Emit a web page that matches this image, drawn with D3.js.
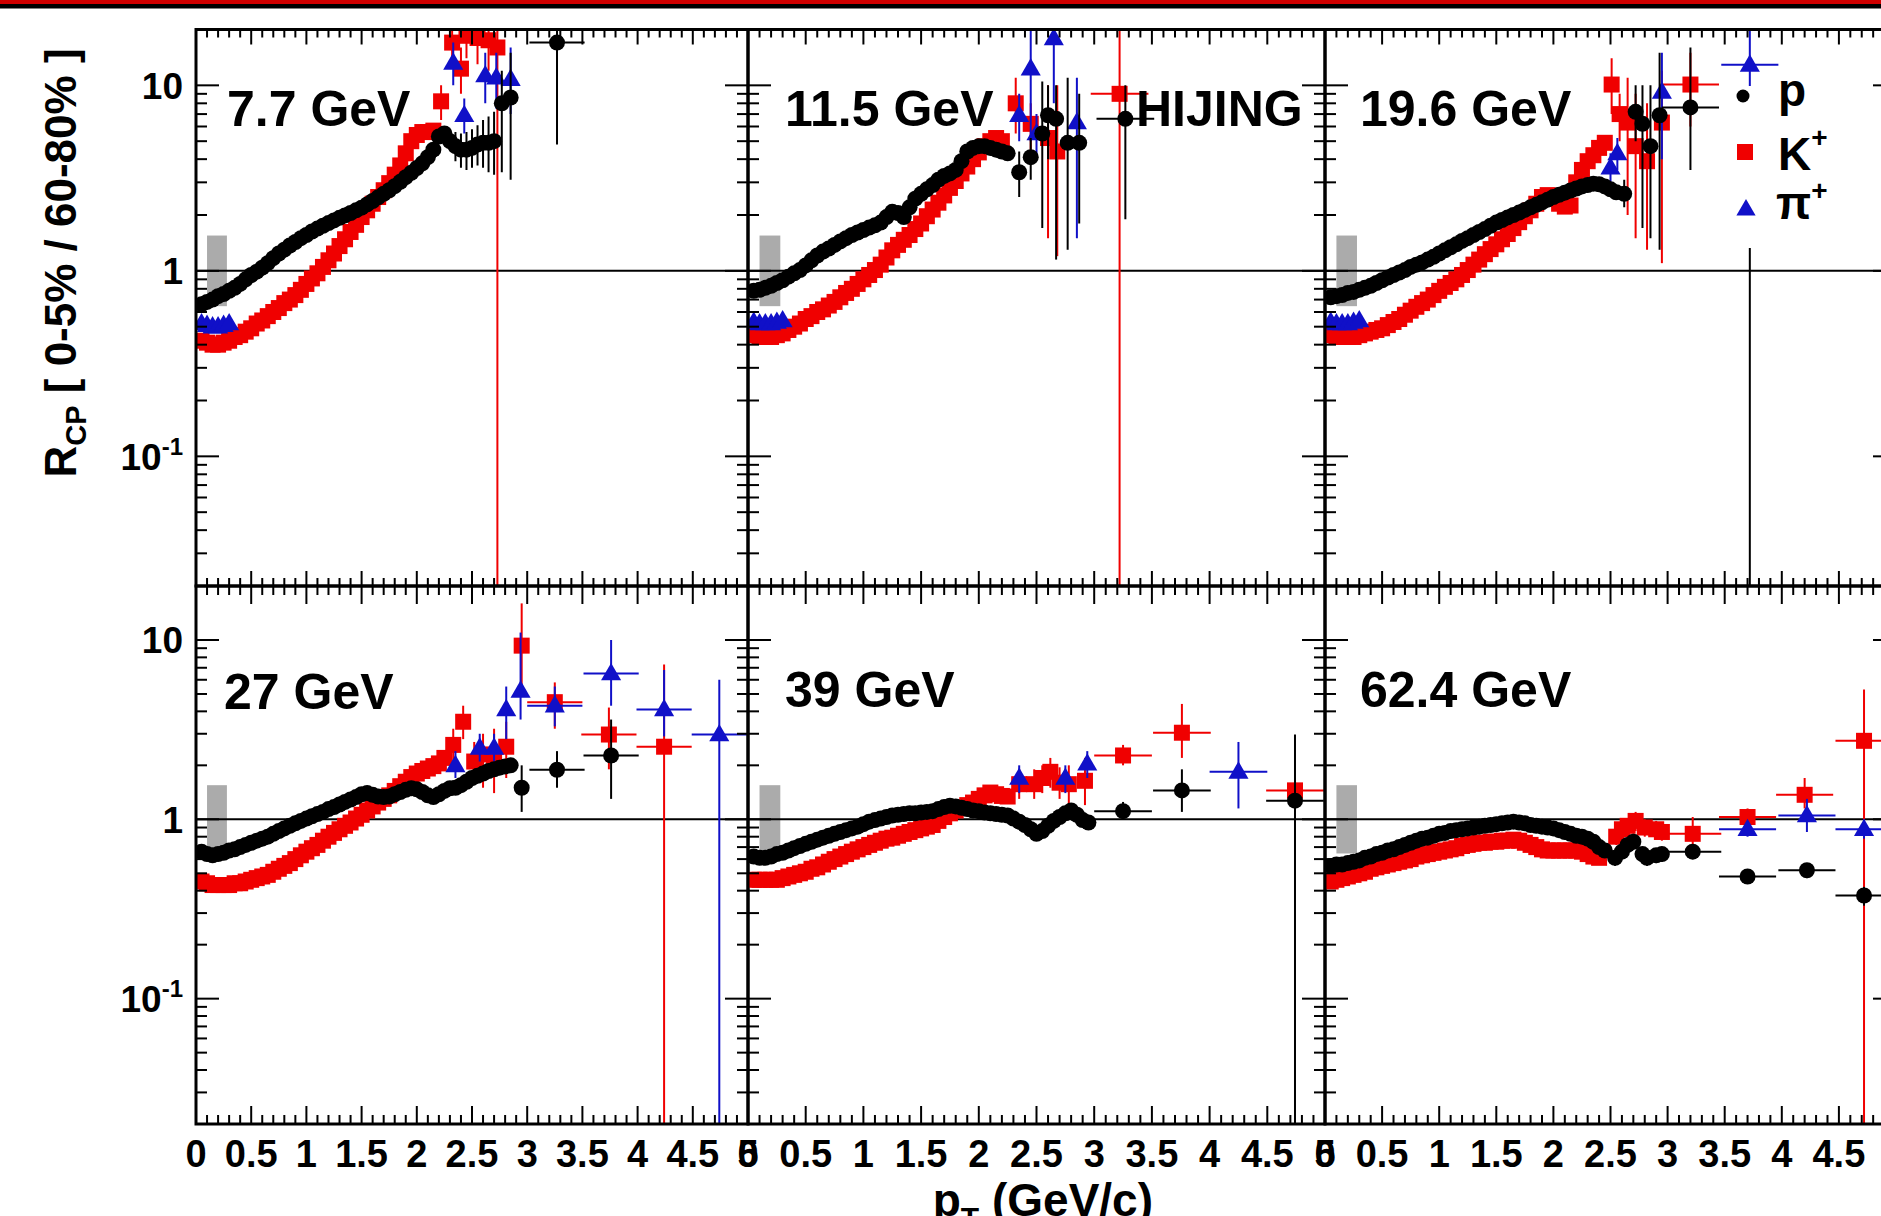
<!DOCTYPE html>
<html><head><meta charset="utf-8">
<script src="https://cdn.jsdelivr.net/npm/d3@7"></script>
<style>
body{margin:0;background:#fff;overflow:hidden}
svg{display:block}
text{font-family:"Liberation Sans",Arial,Helvetica,sans-serif;font-weight:bold;fill:#000}
</style>
</head><body>
<svg id="c" width="1881" height="1216"></svg>
<script>
// ---------------- DATA ----------------
const energies = ["7.7 GeV","11.5 GeV","19.6 GeV","27 GeV","39 GeV","62.4 GeV"];
const species = ["p","K+","pi+"];
const xTickVals = [0,0.5,1,1.5,2,2.5,3,3.5,4,4.5,5];
const xTickLabels = ["0","0.5","1","1.5","2","2.5","3","3.5","4","4.5","5"];
const yTickVals = [0.1,1,10];
const yTickLabels = [["10","-1"],["1",""],["10",""]];
const normBox = [0.1,0.28,0.645,1.55]; // pT from, pT to, low, high

// pT bin centres of the densely populated points
const G = [0.05,0.10,0.15,0.20,0.25,0.30,0.35,0.40,0.45,0.50,0.55,0.60,0.65,0.70,0.75,0.80,0.85,0.90,0.95,1.00,
           1.05,1.10,1.15,1.20,1.25,1.30,1.35,1.40,1.45,1.50,1.55,1.60,1.65,1.70,1.75,1.80,1.85,1.90,1.95,2.00,
           2.05,2.10,2.15,2.20,2.25,2.30,2.35,2.40,2.45,2.50,2.55,2.60,2.65,2.70,2.75,2.80,2.85,2.90,2.95];

// 7.7 GeV
const p77 = [0.66,0.68,0.70,0.73,0.75,0.78,0.81,0.85,0.90,0.95,0.99,1.04,1.10,1.17,1.24,1.30,1.37,1.43,1.50,1.56,
             1.63,1.69,1.75,1.81,1.87,1.93,1.99,2.05,2.12,2.19,2.28,2.38,2.49,2.60,2.72,2.86,3.02,3.20,3.38,3.58,
             3.80,4.10,4.50,5.30,5.50,5.00];
const p77s = [[2.35,4.7,0,3.9,5.6],[2.40,4.5,0,3.6,5.5],[2.45,4.5,0,3.5,5.6],[2.50,4.6,0,3.6,5.8],[2.55,4.8,0,3.7,6.1],
              [2.60,4.9,0,3.6,6.5],[2.65,4.9,0,3.4,6.8],[2.70,5.0,0,3.3,7.2],[2.77,8.0,0,3.4,12],[2.85,8.6,0,3.1,15],
              [3.27,17,0.25,4.8,40]];
const k77 = [0.42,0.41,0.40,0.40,0.41,0.42,0.44,0.45,0.47,0.49,0.52,0.54,0.57,0.60,0.63,0.67,0.70,0.74,0.79,0.85,
             0.91,0.97,1.05,1.14,1.24,1.36,1.48,1.62,1.77,1.95,2.12,2.30,2.50,2.72,2.97,3.30,3.70,4.30,5.00,5.40,
             5.60,5.60,5.70];
const k77s = [[2.22,8.2,0,6.5,10],[2.32,17,0,13,22],[2.40,12.3,0,9,16],[2.45,18.5,0,14,24],[2.55,18,0,13,24],
              [2.65,17.5,0,12,24],[2.73,16,0,0.001,60]];
const pi77 = [0.52,0.51,0.50,0.50,0.51,0.52];
const pi77s = [[2.33,13.2,0,10,17],[2.43,6.9,0,5.5,8.5],[2.62,11.3,0,8,15],[2.72,11,0,7.5,15],[2.85,10.8,0,7,16]];

// 11.5 GeV
const p115 = [0.78,0.79,0.81,0.83,0.86,0.89,0.93,0.97,1.01,1.07,1.14,1.21,1.27,1.32,1.38,1.44,1.50,1.56,1.61,1.66,
              1.71,1.76,1.82,1.95,2.08,2.05,1.95,2.20,2.45,2.60,2.75,2.90,3.10,3.25,3.35,3.50,3.90,4.40,4.60,4.70,
              4.70,4.60,4.50,4.40,4.30];
const p115s = [[2.35,3.4,0,2.5,4.4],[2.45,4.1,0,3.1,5.2],[2.55,5.5,0,1.7,10.5],[2.60,6.9,0,4,10],[2.67,6.6,0,1.15,10],
               [2.77,4.9,0,1.3,11],[2.87,4.9,0,1.8,9],[3.27,6.6,0.25,1.9,10]];
const k115 = [0.45,0.44,0.44,0.44,0.45,0.46,0.48,0.50,0.52,0.55,0.57,0.60,0.62,0.65,0.68,0.72,0.76,0.80,0.85,0.90,
              0.95,1.01,1.08,1.18,1.29,1.38,1.47,1.56,1.68,1.80,1.97,2.14,2.33,2.55,2.80,3.05,3.35,3.65,4.00,4.35,
              4.70,5.00,5.20,5.00];
const k115s = [[2.32,8.0,0,5.5,11],[2.45,6.2,0,4.5,8],[2.60,5.2,0,1.5,10],[2.68,4.4,0,1.2,10],[3.22,9.0,0.25,0.001,40]];
const pi115 = [0.53,0.52,0.52,0.52,0.53,0.54];
const pi115s = [[2.35,6.9,0,5,9],[2.45,12.3,0,5,20],[2.50,5.5,0,4,7],[2.65,17.9,0,8,30],[2.85,6.3,0,1.5,11]];

// 19.6 GeV
const p196 = [0.72,0.73,0.74,0.76,0.77,0.79,0.81,0.83,0.86,0.89,0.92,0.95,0.98,1.01,1.05,1.08,1.11,1.15,1.19,1.24,
              1.29,1.34,1.39,1.45,1.50,1.56,1.62,1.68,1.75,1.82,1.88,1.94,2.00,2.06,2.13,2.20,2.27,2.34,2.42,2.50,
              2.57,2.64,2.71,2.78,2.85,2.90,2.95,2.93,2.85,2.75,2.65];
const p196s = [[2.62,2.6,0,2.2,3.1],[2.72,7.2,0,5,10],[2.78,6.2,0,1.7,10],[2.85,4.7,0,1.5,10],[2.93,6.9,0,1.3,15],
               [3.20,7.6,0.25,3.5,16],[3.72,3.0,0,0.001,5]];
const k196 = [0.45,0.44,0.44,0.44,0.44,0.45,0.46,0.47,0.48,0.49,0.51,0.53,0.55,0.58,0.61,0.64,0.67,0.70,0.74,0.78,
              0.82,0.86,0.90,0.95,1.01,1.08,1.15,1.23,1.31,1.39,1.48,1.58,1.70,1.83,1.97,2.12,2.30,2.50,2.56,2.45,
              2.30,2.22,2.25,3.00,3.50,3.90,4.20,4.60,4.90];
const k196s = [[2.51,10.1,0,7,14],[2.58,7.0,0,5,9],[2.65,6.3,0,2,11],[2.72,4.7,0,1.5,9],[2.82,3.9,0,1.3,8],
               [2.95,6.3,0,1.1,12],[3.20,10.1,0.25,6,15]];
const pi196 = [0.53,0.52,0.52,0.52,0.53,0.54];
const pi196s = [[2.50,3.6,0,3,4.3],[2.56,4.3,0,3.5,5.2],[2.95,9.2,0,4,15],[3.72,12.9,0.25,8,25]];

// 27 GeV
const p27 = [0.66,0.64,0.63,0.64,0.65,0.67,0.68,0.70,0.72,0.74,0.76,0.78,0.80,0.83,0.86,0.89,0.92,0.95,0.98,1.01,
             1.04,1.07,1.10,1.14,1.17,1.21,1.25,1.29,1.33,1.38,1.40,1.37,1.34,1.33,1.34,1.38,1.42,1.46,1.49,1.47,
             1.42,1.36,1.33,1.38,1.44,1.49,1.50,1.55,1.62,1.70,1.75,1.80,1.86,1.90,1.94,1.97,2.00];
const p27s = [[2.95,1.5,0,1.1,2.0],[3.27,1.89,0.25,1.5,2.4],[3.76,2.27,0.25,1.3,3.6]];
const k27 = [0.45,0.44,0.43,0.43,0.43,0.43,0.44,0.44,0.45,0.46,0.47,0.48,0.49,0.51,0.53,0.55,0.57,0.60,0.63,0.66,
             0.69,0.72,0.76,0.80,0.84,0.88,0.92,0.96,1.01,1.06,1.12,1.18,1.24,1.30,1.36,1.44,1.53,1.62,1.72,1.80,
             1.86,1.92,1.98,2.05,2.20];
const k27s = [[2.33,2.6,0,2.1,3.2],[2.42,3.5,0,2.8,4.3],[2.52,2.1,0,1.6,2.7],[2.60,2.3,0,1.5,3.0],[2.70,2.2,0,1.4,3.2],
              [2.81,2.54,0,1.7,3.5],[2.95,9.3,0,5.5,16],[3.25,4.5,0.25,3.2,5.8],[3.74,2.97,0.25,1.9,4.2],
              [4.24,2.54,0.25,0.001,7.3]];
const pi27 = [];
const pi27s = [[2.35,2.0,0,1.7,2.4],[2.57,2.5,0,2.1,3],[2.70,2.5,0,2.1,3],[2.81,4.1,0,2.8,5.5],[2.94,5.2,0,3.6,11],
               [3.25,4.3,0.25,3.3,5.5],[3.76,6.5,0.25,4.3,10],[4.24,4.1,0.25,2.9,6.8],[4.74,2.97,0.25,0.001,6]];

// 39 GeV
const p39 = [0.62,0.61,0.61,0.62,0.64,0.65,0.67,0.69,0.71,0.73,0.75,0.77,0.79,0.81,0.83,0.85,0.87,0.89,0.91,0.94,
             0.97,0.99,1.01,1.03,1.05,1.06,1.07,1.08,1.08,1.09,1.10,1.11,1.14,1.17,1.19,1.18,1.16,1.14,1.12,1.11,
             1.09,1.08,1.07,1.06,1.05,1.01,0.97,0.93,0.88,0.83,0.86,0.92,0.98,1.03,1.08,1.12,1.06,0.99,0.96];
const p39s = [[3.25,1.11,0.25,1.0,1.25],[3.76,1.45,0.25,1.1,1.9],[4.74,1.27,0.25,0.001,2.97]];
const k39 = [0.46,0.46,0.46,0.46,0.46,0.47,0.48,0.49,0.50,0.51,0.53,0.54,0.56,0.58,0.60,0.62,0.64,0.66,0.68,0.70,
             0.72,0.74,0.76,0.78,0.79,0.81,0.83,0.85,0.87,0.89,0.91,0.93,0.98,1.03,1.08,1.12,1.16,1.20,1.24,1.30,
             1.36,1.41,1.38,1.35,1.34];
const k39s = [[2.35,1.57,0,1.3,1.9],[2.48,1.57,0,1.3,1.9],[2.55,1.7,0,1.4,2],[2.62,1.84,0,1.5,2.2],[2.70,1.6,0,1.3,1.95],
              [2.78,1.57,0,1.2,2],[2.92,1.64,0,1.2,2.2],[3.25,2.27,0.25,2.0,2.6],[3.76,3.04,0.25,2.2,4.4],
              [4.74,1.45,0.25,1.2,1.7]];
const pi39 = [];
const pi39s = [[2.35,1.7,0,1.4,2],[2.75,1.7,0,1.4,2],[2.94,2.04,0,1.7,2.4],[4.25,1.84,0.25,1.15,2.7]];

// 62.4 GeV
const p624 = [0.55,0.56,0.56,0.57,0.58,0.59,0.61,0.62,0.64,0.65,0.67,0.68,0.70,0.72,0.74,0.76,0.78,0.79,0.81,0.83,
              0.84,0.86,0.87,0.88,0.89,0.90,0.91,0.92,0.93,0.94,0.95,0.96,0.97,0.96,0.95,0.93,0.92,0.91,0.90,0.89,
              0.87,0.85,0.83,0.81,0.80,0.78,0.75,0.70,0.67];
const p624s = [[2.54,0.61,0,0.55,0.67],[2.60,0.66,0,0.6,0.72],[2.65,0.72,0,0.65,0.79],[2.70,0.75,0,0.68,0.83],
               [2.78,0.64,0,0.58,0.7],[2.82,0.61,0,0.55,0.67],[2.90,0.63,0,0.57,0.69],[2.95,0.64,0,0.58,0.7],
               [3.22,0.66,0.25,0.6,0.72],[3.70,0.48,0.25,0.44,0.52],[4.22,0.52,0.25,0.47,0.57],[4.72,0.376,0.25,0.33,0.42]];
const k624 = [0.45,0.46,0.47,0.48,0.49,0.50,0.51,0.53,0.54,0.55,0.56,0.57,0.58,0.59,0.60,0.62,0.63,0.64,0.65,0.66,
              0.67,0.68,0.69,0.71,0.72,0.73,0.74,0.74,0.75,0.75,0.76,0.76,0.77,0.76,0.74,0.72,0.70,0.68,0.67,0.67,
              0.67,0.67,0.67,0.67,0.66,0.64,0.62,0.61];
const k624s = [[2.55,0.80,0,0.72,0.88],[2.60,0.88,0,0.8,0.97],[2.65,0.92,0,0.83,1.0],[2.72,0.98,0,0.86,1.1],
               [2.80,0.90,0,0.8,1.0],[2.90,0.88,0,0.78,0.98],[2.95,0.85,0,0.76,0.95],[3.22,0.83,0.25,0.72,1.03],
               [3.70,1.03,0.25,0.93,1.15],[4.20,1.37,0.25,1.15,1.7],[4.72,2.74,0.25,0.001,5.3]];
const pi624 = [];
const pi624s = [[3.70,0.88,0.25,0.8,0.97],[4.22,1.05,0.25,0.85,1.3],[4.72,0.88,0.25,0.78,1.0]];

// ---------------- LAYOUT ----------------
const W = 1881, H = 1216;
const cols = [[196,748],[748,1325],[1325,1896]];
const rows = [[29.5,586],[586,1124]];
const colors = {p:"#000000", "K+":"#f00000", "pi+":"#1010c8"};

const panelData = [
  {p:[p77,p77s], K:[k77,k77s], pi:[pi77,pi77s]},
  {p:[p115,p115s], K:[k115,k115s], pi:[pi115,pi115s]},
  {p:[p196,p196s], K:[k196,k196s], pi:[pi196,pi196s]},
  {p:[p27,p27s], K:[k27,k27s], pi:[pi27,pi27s]},
  {p:[p39,p39s], K:[k39,k39s], pi:[pi39,pi39s]},
  {p:[p624,p624s], K:[k624,k624s], pi:[pi624,pi624s]}
];
const labelOffsets = [[31,126],[37,126],[35,126],[28,709],[37,707],[35,707]];

const svg = d3.select("#c");
svg.append("rect").attr("width",W).attr("height",H).attr("fill","#fff");
// top banner
svg.append("rect").attr("x",0).attr("y",0).attr("width",W).attr("height",4).attr("fill","#d00000");
svg.append("rect").attr("x",0).attr("y",4).attr("width",W).attr("height",4.5).attr("fill","#000");

const defs = svg.append("defs");

function toPts(dense){ return dense.map((v,i)=>[G[i], v, 0, null, null]); }

panelData.forEach((pd, idx) => {
  const ci = idx % 3, ri = Math.floor(idx/3);
  const [x0,x1] = cols[ci], [y0,y1] = rows[ri];
  const x = d3.scaleLinear().domain([0,5]).range([x0,x1]);
  const y = d3.scaleLog().domain([0.02,20]).range([y1,y0]);
  const cid = "clip"+idx;
  defs.append("clipPath").attr("id",cid).append("rect")
    .attr("x",x0).attr("y",y0).attr("width",x1-x0).attr("height",y1-y0);
  const g = svg.append("g");
  const dg = g.append("g").attr("clip-path",`url(#${cid})`);

  // normalisation box
  dg.append("rect").attr("x",x(normBox[0])).attr("width",x(normBox[1])-x(normBox[0]))
    .attr("y",y(normBox[3])).attr("height",y(normBox[2])-y(normBox[3])).attr("fill","#ababab");
  // unity line
  dg.append("line").attr("x1",x0).attr("x2",x1).attr("y1",y(1)).attr("y2",y(1))
    .attr("stroke","#000").attr("stroke-width",2);

  const series = [
    {key:"K+", d:pd.K, shape:"square"},
    {key:"pi+", d:pd.pi, shape:"tri"},
    {key:"p", d:pd.p, shape:"circle"}
  ];
  series.forEach(s => {
    const col = colors[s.key];
    const pts = toPts(s.d[0]).concat(s.d[1]);
    const eg = dg.append("g").attr("stroke",col).attr("stroke-width",2);
    pts.forEach(pt => {
      const [px,pv,ex,lo,hi] = pt;
      if (ex>0) eg.append("line").attr("x1",x(px-ex)).attr("x2",x(px+ex)).attr("y1",y(pv)).attr("y2",y(pv));
      if (lo!=null) eg.append("line").attr("x1",x(px)).attr("x2",x(px)).attr("y1",y(lo)).attr("y2",y(hi));
    });
    const mg = dg.append("g").attr("fill",col);
    pts.forEach(pt => {
      const cx = x(pt[0]), cy = y(pt[1]);
      if (s.shape==="circle") mg.append("circle").attr("cx",cx).attr("cy",cy).attr("r",8);
      else if (s.shape==="square") mg.append("rect").attr("x",cx-8).attr("y",cy-8).attr("width",16).attr("height",16);
      else mg.append("path").attr("d",d3.symbol(d3.symbolTriangle,175)()).attr("transform",`translate(${cx},${cy+1})`);
    });
  });

  // frame
  g.append("rect").attr("x",x0).attr("y",y0).attr("width",x1-x0).attr("height",y1-y0)
    .attr("fill","none").attr("stroke","#000").attr("stroke-width",3);

  // x ticks (bottom and top)
  const tg = g.append("g").attr("stroke","#000").attr("stroke-width",2);
  const xt = x.ticks(50);
  const majL = ri===0 ? 15 : 18, minL = ri===0 ? 8 : 9;
  xt.forEach(t => {
    const maj = Math.abs(t*2 - Math.round(t*2)) < 1e-6;
    const L = maj ? majL : minL;
    tg.append("line").attr("x1",x(t)).attr("x2",x(t)).attr("y1",y1).attr("y2",y1-L);
    tg.append("line").attr("x1",x(t)).attr("x2",x(t)).attr("y1",y0).attr("y2",y0+L);
  });
  // y ticks (left and right)
  y.ticks().forEach(t => {
    const lg = Math.log10(t);
    const maj = Math.abs(lg - Math.round(lg)) < 1e-6;
    const L = maj ? 23 : 11;
    tg.append("line").attr("x1",x0).attr("x2",x0+L).attr("y1",y(t)).attr("y2",y(t));
    tg.append("line").attr("x1",x1).attr("x2",x1-L).attr("y1",y(t)).attr("y2",y(t));
  });

  // y tick labels
  if (ci===0) {
    yTickVals.forEach((v,i) => {
      const tx = g.append("text").attr("x",183).attr("y",y(v)+13.5).attr("text-anchor","end")
        .style("font-size","37px");
      tx.append("tspan").text(yTickLabels[i][0]);
      if (yTickLabels[i][1]) tx.append("tspan").attr("dy",-15).style("font-size","24px").text(yTickLabels[i][1]);
    });
  }
  // x tick labels (only those that fall inside the picture)
  if (ri===1) {
    xTickVals.forEach((v,i) => {
      if (x(v) + 12 > W) return;
      g.append("text").attr("x",x(v)).attr("y",1167).attr("text-anchor","middle")
        .style("font-size","38px").text(xTickLabels[i]);
    });
  }
  // energy label
  g.append("text").attr("x",x0+labelOffsets[idx][0]).attr("y",labelOffsets[idx][1])
    .style("font-size","50px").text(energies[idx]);
  if (idx===1) g.append("text").attr("x",1136).attr("y",126).style("font-size","50px").text("HIJING");
});

// legend (in 19.6 GeV panel)
const lg = svg.append("g");
lg.append("rect").attr("x",1729).attr("y",86).attr("width",120).attr("height",162).attr("fill","#fff");
lg.append("circle").attr("cx",1743).attr("cy",96).attr("r",6.5).attr("fill",colors.p);
lg.append("rect").attr("x",1737).attr("y",144).attr("width",16).attr("height",16).attr("fill",colors["K+"]);
lg.append("path").attr("d",d3.symbol(d3.symbolTriangle,160)()).attr("transform","translate(1746,210)").attr("fill",colors["pi+"]);
lg.append("text").attr("x",1778).attr("y",106).style("font-size","46px").text("p");
const kt = lg.append("text").attr("x",1778).attr("y",170).style("font-size","46px");
kt.append("tspan").text("K");
kt.append("tspan").attr("dy",-23).style("font-size","28px").text("+");
const pt = lg.append("text").attr("x",1776).attr("y",219).style("font-size","46px");
pt.append("tspan").text("\u03C0");
pt.append("tspan").attr("dy",-19).style("font-size","28px").text("+");

// axis titles
const yt = svg.append("text").attr("transform","translate(76,263) rotate(-90)")
  .attr("text-anchor","middle").style("font-size","44px");
yt.append("tspan").text("R");
yt.append("tspan").attr("dy",10).style("font-size","29px").text("CP");
yt.append("tspan").attr("dy",-10).text(" [ 0-5% / 60-80% ]");

const xtit = svg.append("text").attr("x",1153).attr("y",1216).attr("text-anchor","end").style("font-size","46px");
xtit.append("tspan").text("p");
xtit.append("tspan").attr("dy",12).style("font-size","30px").text("T");
xtit.append("tspan").attr("dy",-12).text(" (GeV/c)");
</script>
</body></html>
